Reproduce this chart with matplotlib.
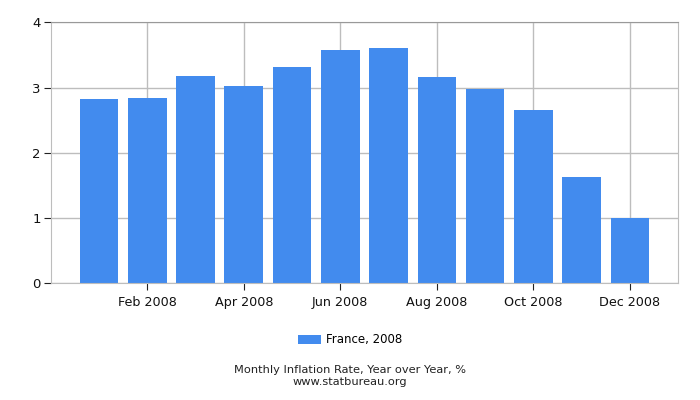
import matplotlib
matplotlib.use("Agg")
import matplotlib.pyplot as plt
from matplotlib.patches import Patch

months = ["Jan 2008", "Feb 2008", "Mar 2008", "Apr 2008", "May 2008", "Jun 2008",
          "Jul 2008", "Aug 2008", "Sep 2008", "Oct 2008", "Nov 2008", "Dec 2008"]
values = [2.82, 2.84, 3.18, 3.02, 3.31, 3.57, 3.60, 3.16, 2.98, 2.66, 1.63, 1.00]
yticks = [0, 1, 2, 3, 4]
series_label = "France, 2008"
title = "Monthly Inflation Rate, Year over Year, %"
source = "www.statbureau.org"

bar_color = "#428bee"
grid_color = "#bdbdbd"

plt.rcParams["font.family"] = ["DejaVu Sans"]
fig = plt.figure(figsize=(7, 4), dpi=100)
ax = fig.add_axes([0.0724, 0.292, 0.969 - 0.0724, 0.944 - 0.292])

x = list(range(len(months)))
ax.bar(x, values, width=0.8, color=bar_color, zorder=2)
ax.set_xlim(-1, 12)
ax.set_ylim(0, 4)
ax.set_yticks(yticks)
ax.set_yticklabels([str(t) for t in yticks], fontsize=9.5, color="#111111")
ax.set_xticks(x[1::2])
ax.set_xticklabels(months[1::2], fontsize=9.2, color="#111111")
ax.grid(True, color=grid_color, linewidth=1, zorder=0)
ax.set_axisbelow(True)
ax.spines["top"].set_color("#999999")
ax.spines["right"].set_color(grid_color)
ax.spines["left"].set_color(grid_color)
ax.spines["bottom"].set_color(grid_color)
ax.tick_params(axis="y", length=5, color="#222222", pad=2)
ax.tick_params(axis="x", length=5, color="#222222", pad=4)

handles = [Patch(facecolor=bar_color, label=series_label)]
fig.legend(handles=handles, loc="center", bbox_to_anchor=(0.5, 1 - 340 / 400),
           frameon=False, fontsize=8.5, handlelength=2.0, handleheight=0.8,
           handletextpad=0.4)
fig.text(0.5, 1 - 370 / 400, title, ha="center", va="center", fontsize=8.2, color="#222222")
fig.text(0.5, 1 - 382 / 400, source, ha="center", va="center", fontsize=8.2, color="#222222")

fig.savefig("out.png", dpi=100)
